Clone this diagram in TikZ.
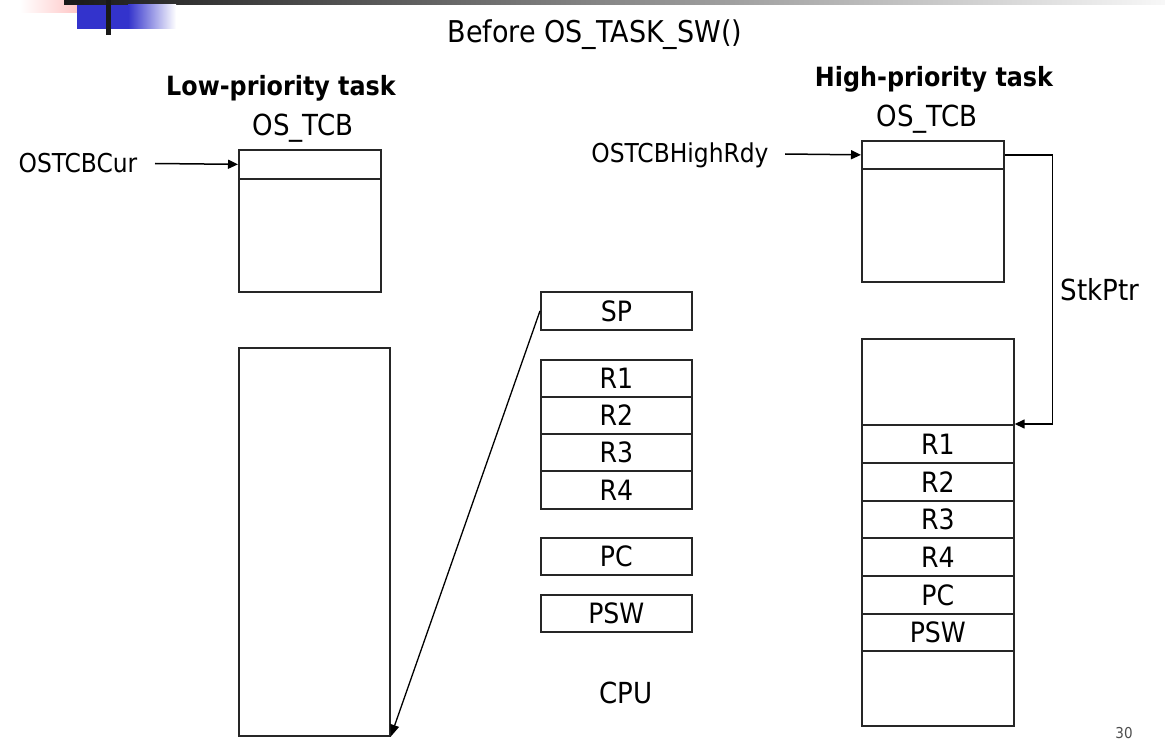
\documentclass[tikz,border=0pt]{standalone}
\usepackage{fontspec}
\setmainfont{DejaVu Sans Condensed}
\usetikzlibrary{arrows.meta}
\definecolor{decoblue}{RGB}{51,51,204}
\definecolor{decopink}{RGB}{255,180,180}
\begin{document}
\begin{tikzpicture}[x=1pt,y=-1pt,
  box/.style={draw=black!85,line width=1.7pt,inner sep=0pt,anchor=north west,font=\fontsize{28}{30}\selectfont},
  lbl/.style={inner sep=0pt,font=\fontsize{26}{30}\selectfont},
  conn/.style={line width=1.5pt,-{Triangle[length=10pt,width=9pt]}}]
\useasboundingbox (0,0) rectangle (1165,751);
% top decoration
\shade[left color=white,right color=decopink] (20,0) rectangle (97,13);
\shade[left color=black!90,right color=black!3] (64,0) rectangle (1165,5);
\fill[decoblue] (77,5) rectangle (128,29);
\shade[left color=decoblue,right color=white] (128,5) rectangle (176,29);
\fill[black!90] (106,0) rectangle (111,35);
% title
\node[lbl,font=\fontsize{30}{32}\selectfont] (title) at (595,35) {Before OS\_TASK\_SW()};
% left task
\node[lbl,font=\bfseries\fontsize{26.5}{30}\selectfont] (lowt) at (281,88) {Low-priority task};
\node[lbl,font=\fontsize{29}{30}\selectfont] (ltcbl) at (303,128) {OS\_TCB};
\node[box,minimum width=142,minimum height=29] (ltcbtop) at (238,149) {};
\node[box,minimum width=142,minimum height=113] (ltcbbody) at (238,178) {};
\node[lbl] (cur) at (78,163) {OSTCBCur};
\coordinate (curend) at (155,163.5);
\draw[conn] (curend) -- (ltcbtop.west);
\node[box,minimum width=151,minimum height=388] (lstack) at (238,347) {};
% CPU
\node[box,minimum width=151,minimum height=38] (sp) at (540,291) {SP};
\node[box,minimum width=151,minimum height=37] (cr1) at (540,359) {R1};
\node[box,minimum width=151,minimum height=37] (cr2) at (540,396) {R2};
\node[box,minimum width=151,minimum height=37] (cr3) at (540,433) {R3};
\node[box,minimum width=151,minimum height=38] (cr4) at (540,470) {R4};
\node[box,minimum width=151,minimum height=37] (cpc) at (540,537) {PC};
\node[box,minimum width=151,minimum height=37] (cpsw) at (540,594) {PSW};
\node[lbl,font=\fontsize{29}{30}\selectfont] (cpu) at (626,693) {CPU};
\draw[line width=1.3pt,-{Triangle[length=12pt,width=9pt]}] (sp.west) -- (lstack.south east);
% right task
\node[lbl,font=\bfseries\fontsize{26.5}{30}\selectfont] (hight) at (934,79) {High-priority task};
\node[lbl,font=\fontsize{29}{30}\selectfont] (rtcbl) at (927,119) {OS\_TCB};
\node[box,minimum width=142,minimum height=28] (rtcbtop) at (861,140) {};
\node[box,minimum width=142,minimum height=113] (rtcbbody) at (861,168) {};
\node[lbl] (hrdy) at (680,155) {OSTCBHighRdy};
\coordinate (hrdyend) at (785,154);
\draw[conn] (hrdyend) -- (rtcbtop.west);
\node[box,minimum width=152,minimum height=387] (rstack) at (861,338) {};
\node[box,minimum width=152,minimum height=38] (rr1) at (861,424) {R1};
\node[box,minimum width=152,minimum height=38] (rr2) at (861,462) {R2};
\node[box,minimum width=152,minimum height=37] (rr3) at (861,500) {R3};
\node[box,minimum width=152,minimum height=38] (rr4) at (861,537) {R4};
\node[box,minimum width=152,minimum height=38] (rpc) at (861,575) {PC};
\node[box,minimum width=152,minimum height=37] (rpsw) at (861,613) {PSW};
\draw[conn] (rtcbtop.east) -- ++(48,0) |- (rr1.north east);
\node[lbl,font=\fontsize{29}{30}\selectfont] (stk) at (1100,290) {StkPtr};
\node[inner sep=0pt,font=\fontsize{15}{17}\selectfont,text=black!70] (pg) at (1124,733) {30};
\end{tikzpicture}
\end{document}
